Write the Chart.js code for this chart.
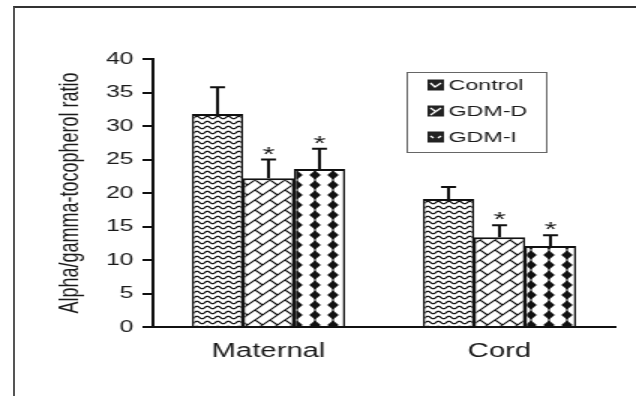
<!DOCTYPE html>
<html lang="en">
  <head>
    <meta charset="utf-8" />
    <meta name="viewport" content="width=device-width, initial-scale=1" />
    <title>Alpha/gamma-tocopherol ratio</title>
    <style>
      * {
        margin: 0;
        padding: 0;
      }
      body {
        background: #fff;
      }
      .page {
        position: relative;
        width: 636px;
        height: 396px;
        overflow: hidden;
        background: #fff;
      }
      /* scanned page edge */
      .page::after {
        content: "";
        position: absolute;
        left: 13px;
        top: 6px;
        right: -6px;
        bottom: -6px;
        border-top: 2px solid #333;
        border-left: 2px solid #555;
        pointer-events: none;
      }
      /* the scan is stretched sideways, so the chart is drawn narrow and widened */
      #myChart {
        position: absolute;
        left: 0;
        top: 0;
        transform: scaleX(1.5);
        transform-origin: 0 0;
      }
    </style>
  </head>
  <body>
    <div class="page">
      <canvas id="myChart" width="424" height="396"></canvas>
    </div>
    <script src="https://cdn.jsdelivr.net/npm/chart.js/dist/chart.umd.min.js"></script>
    <script>
      const categories = ["Maternal", "Cord"];
      const seriesNames = ["Control", "GDM-D", "GDM-I"];
      const controlValues = [31.8, 19.1];
      const gdmDValues = [22.2, 13.4];
      const gdmIValues = [23.6, 12.1];
      // upper error bar lengths
      const controlErrors = [4.0, 1.8];
      const gdmDErrors = [2.8, 1.8];
      const gdmIErrors = [3.0, 1.6];
      // asterisk = significant vs control
      const controlStars = [false, false];
      const gdmDStars = [true, true];
      const gdmIStars = [true, true];
      const yTicks = [0, 5, 10, 15, 20, 25, 30, 35, 40];

      const ink = "#111";
      const textColor = "#1a1a1a";
      const fontFamily = "'Liberation Sans', Arial, Helvetica, sans-serif";

      function makePattern(w, h, draw) {
        const c = document.createElement("canvas");
        c.width = w;
        c.height = h;
        const g = c.getContext("2d");
        g.fillStyle = "#fff";
        g.fillRect(0, 0, w, h);
        g.strokeStyle = ink;
        g.fillStyle = ink;
        draw(g, w, h);
        return g.createPattern(c, "repeat");
      }

      // wavy lines
      const wavePattern = makePattern(7, 5, (g, w, h) => {
        g.lineWidth = 1.2;
        g.beginPath();
        for (let x = -1; x <= w + 1; x += 0.25) {
          const y = h / 2 + 1.2 * Math.sin((x / w) * Math.PI * 2);
          if (x === -1) g.moveTo(x, y);
          else g.lineTo(x, y);
        }
        g.stroke();
      });

      // diagonal brick
      const brickPattern = makePattern(10, 10, (g, s) => {
        g.lineWidth = 1.2;
        g.beginPath();
        for (const k of [0, s, 2 * s]) {
          g.moveTo(-2, k + 2);
          g.lineTo(k + 2, -2);
        }
        g.moveTo(0, 0);
        g.lineTo(s / 2, s / 2);
        g.stroke();
      });

      // black diamonds
      const diamondPattern = makePattern(12, 10, (g, w, h) => {
        g.lineWidth = 1;
        g.beginPath();
        g.moveTo(w / 2, 0);
        g.lineTo(w / 2, h);
        g.stroke();
        g.beginPath();
        g.moveTo(w / 2, h / 2 - 4.6);
        g.lineTo(w / 2 + 3.8, h / 2);
        g.lineTo(w / 2, h / 2 + 4.6);
        g.lineTo(w / 2 - 3.8, h / 2);
        g.closePath();
        g.fill();
      });

      const barBorder = { top: 2, left: 1.5, right: 1.5, bottom: 0 };

      const data = {
        labels: categories,
        datasets: [
          {
            label: seriesNames[0],
            data: controlValues,
            errors: controlErrors,
            stars: controlStars,
            backgroundColor: wavePattern,
            borderColor: ink,
            borderWidth: barBorder,
          },
          {
            label: seriesNames[1],
            data: gdmDValues,
            errors: gdmDErrors,
            stars: gdmDStars,
            backgroundColor: brickPattern,
            borderColor: ink,
            borderWidth: barBorder,
          },
          {
            label: seriesNames[2],
            data: gdmIValues,
            errors: gdmIErrors,
            stars: gdmIStars,
            backgroundColor: diamondPattern,
            borderColor: ink,
            borderWidth: barBorder,
          },
        ],
      };

      // error bars (upper only) plus asterisks
      const errorBars = {
        id: "errorBars",
        afterDatasetsDraw(chart) {
          const { ctx } = chart;
          const y = chart.scales.y;
          ctx.save();
          ctx.strokeStyle = ink;
          ctx.fillStyle = textColor;
          ctx.lineWidth = 2;
          ctx.font = "21px " + fontFamily;
          ctx.textAlign = "center";
          ctx.textBaseline = "alphabetic";
          chart.data.datasets.forEach((ds, i) => {
            chart.getDatasetMeta(i).data.forEach((bar, j) => {
              const top = y.getPixelForValue(ds.data[j] + ds.errors[j]);
              ctx.beginPath();
              ctx.moveTo(bar.x, bar.y);
              ctx.lineTo(bar.x, top);
              ctx.moveTo(bar.x - 5, top);
              ctx.lineTo(bar.x + 5, top);
              ctx.stroke();
              if (ds.stars[j]) {
                ctx.fillText("*", bar.x, top + 1);
              }
            });
          });
          ctx.restore();
        },
      };

      // boxed legend inside the plot
      const boxLegend = {
        id: "boxLegend",
        afterDraw(chart) {
          const { ctx } = chart;
          const bx = 271;
          const by = 72;
          ctx.save();
          ctx.fillStyle = "#fff";
          ctx.fillRect(bx, by, 93, 80);
          ctx.strokeStyle = "#666";
          ctx.lineWidth = 1;
          ctx.strokeRect(bx + 0.5, by + 0.5, 93, 80);
          ctx.font = "15.5px " + fontFamily;
          ctx.textBaseline = "middle";
          chart.data.datasets.forEach((ds, i) => {
            const cy = by + 13 + i * 26;
            const ix = bx + 14;
            ctx.fillStyle = "#222";
            ctx.fillRect(ix, cy - 5.5, 11, 11);
            ctx.strokeStyle = "#fff";
            ctx.lineWidth = 1.3;
            ctx.beginPath();
            if (i === 0) {
              ctx.moveTo(ix + 2, cy - 2);
              ctx.lineTo(ix + 5, cy + 2);
              ctx.lineTo(ix + 9, cy - 2);
            } else if (i === 1) {
              ctx.moveTo(ix + 2, cy + 4);
              ctx.lineTo(ix + 9, cy - 3);
              ctx.moveTo(ix + 2, cy - 3);
              ctx.lineTo(ix + 5, cy);
            } else {
              ctx.moveTo(ix + 2, cy - 1);
              ctx.lineTo(ix + 4, cy + 1);
              ctx.moveTo(ix + 7, cy + 1);
              ctx.lineTo(ix + 9, cy - 1);
            }
            ctx.stroke();
            ctx.fillStyle = textColor;
            ctx.fillText(ds.label, ix + 14, cy + 1);
          });
          ctx.restore();
        },
      };

      const config = {
        type: "bar",
        data,
        options: {
          responsive: false,
          animation: false,
          devicePixelRatio: 1,
          categoryPercentage: 0.662,
          barPercentage: 1,
          layout: {
            padding: { top: 59, right: 14, bottom: 0, left: 0 },
          },
          scales: {
            x: {
              afterFit: (s) => {
                s.height = 69;
              },
              grid: { display: false, drawTicks: false },
              border: { display: true, color: ink, width: 2 },
              ticks: {
                padding: 13,
                color: textColor,
                font: { family: fontFamily, size: 19.5 },
              },
            },
            y: {
              min: 0,
              max: 40,
              afterBuildTicks: (s) => {
                s.ticks = yTicks.map((v) => ({ value: v }));
              },
              afterFit: (s) => {
                s.width = 102;
              },
              grid: {
                drawOnChartArea: false,
                drawTicks: true,
                tickLength: 7,
                color: ink,
                lineWidth: 2,
              },
              border: { display: true, color: ink, width: 2 },
              ticks: {
                padding: 6,
                color: textColor,
                font: { family: fontFamily, size: 16.5 },
              },
              title: {
                display: true,
                text: "Alpha/gamma-tocopherol ratio",
                color: textColor,
                font: { family: fontFamily, size: 18 },
                padding: { top: 36, bottom: 0 },
              },
            },
          },
          plugins: {
            legend: { display: false },
            tooltip: { enabled: false },
          },
        },
        plugins: [errorBars, boxLegend],
      };

      const myChart = new Chart(document.getElementById("myChart"), config);
    </script>
  </body>
</html>
